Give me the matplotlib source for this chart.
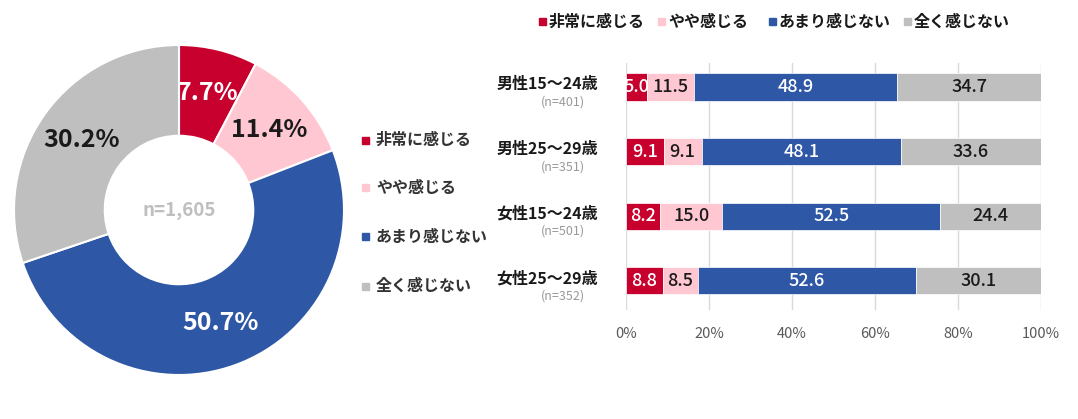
import matplotlib
matplotlib.use("Agg")
import matplotlib.pyplot as plt
import numpy as np

plt.rcParams['font.family'] = ['Noto Sans CJK JP', 'DejaVu Sans']

categories = ['非常に感じる', 'やや感じる', 'あまり感じない', '全く感じない']
colors = ['#C8002D', '#FFC7D2', '#2E57A6', '#BFBFBF']
text_colors = ['white', '#1a1a1a', 'white', '#1a1a1a']

pie_values = [7.7, 11.4, 50.7, 30.2]
pie_n = 'n=1,605'

groups = ['男性15～24歳', '男性25～29歳', '女性15～24歳', '女性25～29歳']
group_n = ['(n=401)', '(n=351)', '(n=501)', '(n=352)']
bar_values = [
    [5.0, 11.5, 48.9, 34.7],
    [9.1, 9.1, 48.1, 33.6],
    [8.2, 15.0, 52.5, 24.4],
    [8.8, 8.5, 52.6, 30.1],
]
xticks = [0, 20, 40, 60, 80, 100]

W, H = 1078, 419
fig = plt.figure(figsize=(W / 100, H / 100), dpi=100)

# ---------- Donut ----------
cx, cy, r = 179, 210, 165
axp = fig.add_axes([(cx - r) / W, 1 - (cy + r) / H, 2 * r / W, 2 * r / H])
wedges, _, autotexts = axp.pie(
    pie_values, colors=colors, startangle=90, counterclock=False,
    radius=1, autopct='%.1f%%', pctdistance=0.73,
    wedgeprops=dict(width=0.55, edgecolor='white', linewidth=1.5),
    textprops=dict(fontsize=18, fontweight='bold'))
for t, c in zip(autotexts, text_colors):
    t.set_color(c)
axp.text(0, 0, pie_n, ha='center', va='center', fontsize=13.5,
         fontweight='bold', color='#BFBFBF')
axp.set_xlim(-1, 1)
axp.set_ylim(-1, 1)
axp.set_aspect('equal')

# pie legend
leg_y = [140, 188, 237, 286]
for lab, col, y in zip(categories, colors, leg_y):
    fig.patches.append(plt.Rectangle((362 / W, 1 - (y + 3.5) / H), 7 / W, 7 / H,
                                     transform=fig.transFigure, color=col))
    fig.text(376 / W, 1 - y / H, lab, ha='left', va='center', fontsize=11.5,
             fontweight='bold', color='#333333')

# ---------- Stacked bars ----------
x0, x1 = 626, 1041
ytop, ybot = 63, 310
axb = fig.add_axes([x0 / W, 1 - ybot / H, (x1 - x0) / W, (ybot - ytop) / H])
y = np.arange(len(groups))
left = np.zeros(len(groups))
vals = np.array(bar_values)
for j, (lab, col, tc) in enumerate(zip(categories, colors, text_colors)):
    v = vals[:, j]
    bars = axb.barh(y, v, left=left, height=0.42, color=col, edgecolor='white',
                    linewidth=0.5, zorder=3)
    for i in range(len(groups)):
        t = axb.text(left[i] + v[i] / 2, y[i], f'{v[i]:.1f}', ha='center',
                     va='center', fontsize=13, fontweight='medium', color=tc,
                     zorder=4)
        t.set_clip_path(bars.patches[i])
    left += v
axb.set_xlim(0, 100)
axb.set_ylim(3.45, -0.37)
axb.set_xticks(xticks)
axb.set_xticklabels([f'{t}%' for t in xticks], fontsize=10.5, color='#595959')
axb.set_yticks([])
axb.tick_params(axis='x', length=0, pad=12)
for s in axb.spines.values():
    s.set_visible(False)
axb.grid(axis='x', color='#D9D9D9', linewidth=1, zorder=0)
axb.set_axisbelow(True)

for i, (g, n) in enumerate(zip(groups, group_n)):
    axb.annotate(g, xy=(0, y[i]), xycoords='data', xytext=(-20, 2),
                 textcoords='offset points', ha='right', va='center',
                 fontsize=11.5, fontweight='bold', color='#1a1a1a')
    axb.annotate(n, xy=(0, y[i]), xycoords='data', xytext=(-29.5, -11),
                 textcoords='offset points', ha='right', va='center',
                 fontsize=9, color='#999999')

# top legend
tl = [(539, 0), (658, 1), (769, 2), (904, 3)]
for xpos, j in tl:
    fig.patches.append(plt.Rectangle((xpos / W, 1 - (22 + 3.5) / H), 7 / W, 7 / H,
                                     transform=fig.transFigure, color=colors[j]))
    fig.text((xpos + 10) / W, 1 - 22 / H, categories[j], ha='left', va='center',
             fontsize=11.5, fontweight='bold', color='#1a1a1a')

fig.savefig('out.png', dpi=100, facecolor='white')
